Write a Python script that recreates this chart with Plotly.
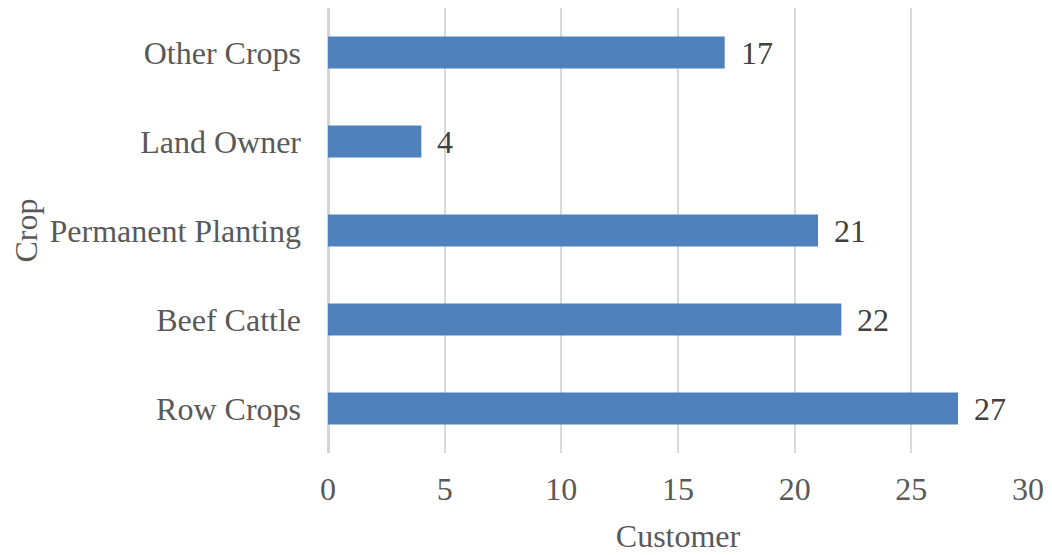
import plotly.graph_objects as go

# Customer counts by crop type
crops = ["Row Crops", "Beef Cattle", "Permanent Planting", "Land Owner", "Other Crops"]
customers = [27, 22, 21, 4, 17]
x_ticks = [0, 5, 10, 15, 20, 25, 30]

BAR_COLOR = "#4f81bd"
TEXT_GREY = "#595959"
LABEL_GREY = "#404040"
FONT = "Liberation Serif, Times New Roman, serif"
SIZE = 32

fig = go.Figure(
    go.Bar(
        x=customers,
        y=crops,
        orientation="h",
        marker=dict(color=BAR_COLOR, line=dict(width=0)),
        hoverinfo="skip",
    )
)

# value labels placed just past the end of each bar
for crop, val in zip(crops, customers):
    fig.add_annotation(
        x=val, y=crop, text=str(val), showarrow=False,
        xanchor="left", xshift=14,
        font=dict(family=FONT, size=SIZE, color=LABEL_GREY),
    )

fig.update_layout(
    width=1052,
    height=555,
    margin=dict(l=328, r=21, t=8, b=99),
    paper_bgcolor="white",
    plot_bgcolor="white",
    bargap=0.64,
    showlegend=False,
    font=dict(family=FONT, size=SIZE, color=TEXT_GREY),
)

fig.update_xaxes(
    range=[0, 30],
    tickvals=x_ticks,
    ticktext=[str(t) for t in x_ticks],
    showgrid=True,
    gridcolor="#d9d9d9",
    gridwidth=2,
    zeroline=True,
    zerolinecolor="#d4d4d4",
    zerolinewidth=3,
    showline=False,
    ticks="",
    ticklabelstandoff=14,
    tickfont=dict(family=FONT, size=SIZE, color=TEXT_GREY),
    title=dict(text="Customer", standoff=18,
               font=dict(family=FONT, size=SIZE, color=TEXT_GREY)),
)

fig.update_yaxes(
    showgrid=False,
    showline=False,
    ticks="",
    ticklabelstandoff=26,
    tickfont=dict(family=FONT, size=SIZE, color=TEXT_GREY),
    title=dict(text="Crop", standoff=2,
               font=dict(family=FONT, size=SIZE, color=TEXT_GREY)),
)

fig.write_html("out.html")
